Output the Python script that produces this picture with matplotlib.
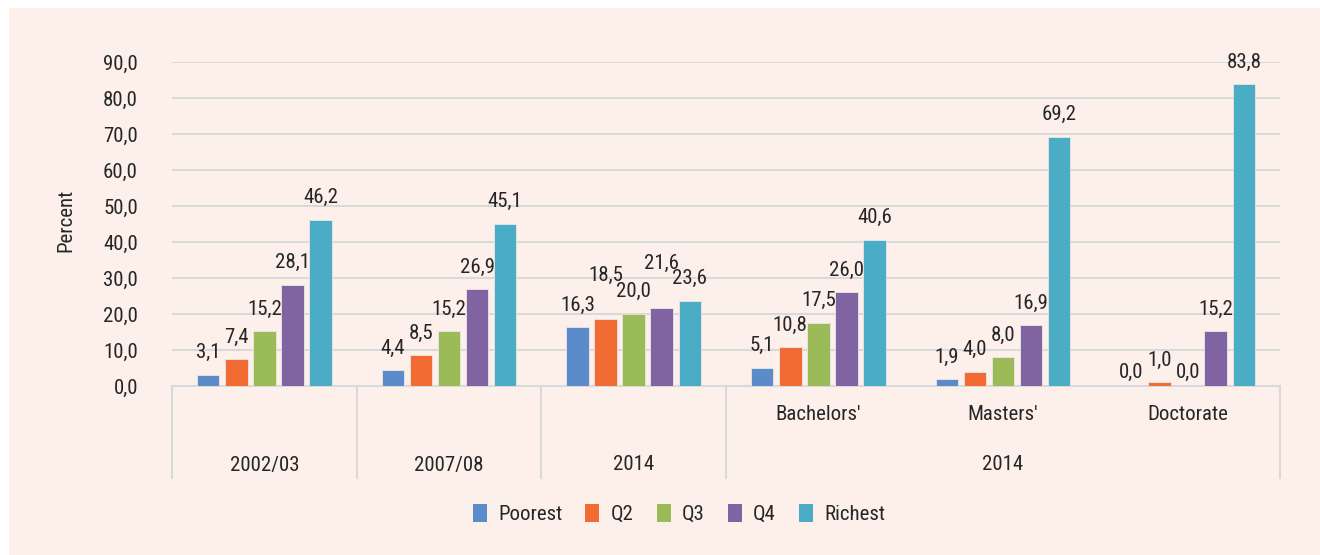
import matplotlib
matplotlib.use("Agg")
import matplotlib.pyplot as plt
from matplotlib.patches import Rectangle
from matplotlib.transforms import blended_transform_factory
from matplotlib import font_manager
import numpy as np

# ---- data ----
groups = ["2002/03", "2007/08", "2014", "Bachelors'", "Masters'", "Doctorate"]
series_names = ["Poorest", "Q2", "Q3", "Q4", "Richest"]
poorest = [3.1, 4.4, 16.3, 5.1, 1.9, 0.0]
q2 = [7.4, 8.5, 18.5, 10.8, 4.0, 1.0]
q3 = [15.2, 15.2, 20.0, 17.5, 8.0, 0.0]
q4 = [28.1, 26.9, 21.6, 26.0, 16.9, 15.2]
richest = [46.2, 45.1, 23.6, 40.6, 69.2, 83.8]
top_labels = ["2002/03", "2007/08", "2014", "2014"]
yticks = [0, 10, 20, 30, 40, 50, 60, 70, 80, 90]

colors = ["#5B8CC9", "#F26B32", "#9BBB59", "#8064A2", "#4BACC6"]
# extra label offsets (points) for overlapping labels: (series index, group index) -> offset
label_shift = {(1, 2): 16, (3, 2): 16}

avail = {f.name for f in font_manager.fontManager.ttflist}
cands = ['Roboto Condensed', 'Liberation Sans Narrow', 'Open Sans Condensed', 'Arial Narrow',
         'Nimbus Sans Narrow', 'Roboto']
fam = next((c for c in cands if c in avail), 'DejaVu Sans')
plt.rcParams['font.family'] = [fam, 'DejaVu Sans']
TXT = "#262626"
FS = 13.5 if fam == 'Roboto' else 15

fig = plt.figure(figsize=(13.2, 5.55), dpi=100)
fig.patch.set_facecolor("white")
fig.add_artist(Rectangle((9 / 1320, 0), 1 - 9 / 1320, 1 - 8 / 555, transform=fig.transFigure,
                         facecolor="#FDF0EB", edgecolor="none", zorder=-10))

L, R = 172 / 1320, 1280 / 1320
B, T = 1 - 386 / 555, 1 - 62 / 555
ax = fig.add_axes([L, B, R - L, T - B])
ax.set_facecolor("none")

data = [poorest, q2, q3, q4, richest]
x = np.arange(len(groups))
step = 0.152
width = 0.122
for si, (vals, c, name) in enumerate(zip(data, colors, series_names)):
    xs = x + (si - 2) * step
    ax.bar(xs, vals, width=width, color=c, edgecolor="#E8E8E8", linewidth=0.6,
           label=name, zorder=3)
    for gi, (xx, v) in enumerate(zip(xs, vals)):
        off = 16 if v > 0 else 10
        off += label_shift.get((si, gi), 0)
        ax.annotate(f"{v:.1f}".replace(".", ","), (xx, v), xytext=(0, off),
                    textcoords="offset points", ha="center", va="center",
                    fontsize=FS, color=TXT, zorder=4)

ax.set_xlim(-0.5, len(groups) - 0.5)
ax.set_ylim(0, 90)
ax.set_yticks(yticks)
ax.set_yticklabels([f"{v:.1f}".replace(".", ",") for v in yticks], fontsize=FS, color=TXT)
ax.tick_params(axis="y", length=0, pad=24.5)
ax.set_xticks([])
ax.grid(axis="y", color="#D9D9D9", linewidth=1.5, zorder=0)
for s in ax.spines.values():
    s.set_visible(False)
ax.set_ylabel("Percent", fontsize=FS, color=TXT)
ax.yaxis.set_label_coords((75 - 172) / 1108, (386 - 220) / 324)

# category axis box
tr = blended_transform_factory(ax.transData, ax.transAxes)
line_kw = dict(color="#D9D9D9", linewidth=1.5, transform=tr, clip_on=False, zorder=2)
ax.plot([-0.5, len(groups) - 0.5], [0, 0], **line_kw)
ybot = -92 / 324
for xv in [-0.5, 0.5, 1.5, 2.5, 5.5]:
    ax.plot([xv, xv], [0, ybot], **line_kw)

y1 = -29 / 324
y2 = -79 / 324
for gi in range(3, 6):
    ax.text(x[gi], y1, groups[gi], transform=tr, ha="center", va="center", fontsize=FS, color=TXT)
for gi in range(3):
    ax.text(x[gi], y2, top_labels[gi], transform=tr, ha="center", va="center", fontsize=FS, color=TXT)
ax.text(x[4], y2, top_labels[3], transform=tr, ha="center", va="center", fontsize=FS, color=TXT)

leg = fig.legend(loc="center", bbox_to_anchor=(679 / 1320, 1 - 514 / 555), ncol=5, frameon=False,
                 fontsize=FS, handlelength=0.67, handleheight=0.95, handletextpad=0.55,
                 columnspacing=1.1)
for t in leg.get_texts():
    t.set_color(TXT)
for h in leg.legend_handles:
    h.set_edgecolor("none")

fig.savefig("out.png", dpi=100, facecolor=fig.get_facecolor())
